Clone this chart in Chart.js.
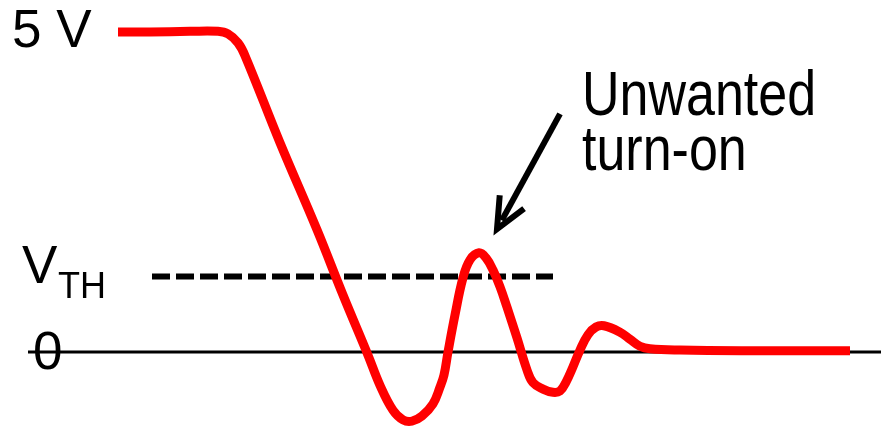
<!DOCTYPE html>
<html lang="en">
<head>
    <meta charset="UTF-8">
    <title>Unwanted turn-on</title>
    <script src="https://cdn.jsdelivr.net/npm/chart.js"></script>
    <style>
        body { margin: 0; background: #fff; }
        canvas { display: block; }
    </style>
</head>
<body>
    <canvas id="waveChart" width="881" height="428"></canvas>
    <script>
        // gate voltage waveform (time in arbitrary units, volts)
        const time = [118, 150, 190, 218, 228, 238, 245, 280, 317, 343, 368, 380, 393, 403, 412, 422, 433, 440, 444, 448,
            455, 463, 470, 479, 486, 493, 500, 507, 517, 527, 533, 543, 553, 560, 566, 573, 580, 588, 596, 604,
            620, 630, 640, 650, 680, 750, 850];
        const volts = [5.0, 5.0, 5.01, 5.01, 4.97, 4.83, 4.63, 3.27, 1.91, 0.89, -0.05, -0.52, -0.91, -1.06, -1.08, -1.0, -0.81, -0.55, -0.36, 0.0,
            0.58, 1.16, 1.44, 1.55, 1.47, 1.28, 1.02, 0.70, 0.22, -0.28, -0.48, -0.58, -0.63, -0.61, -0.47, -0.23, 0.03, 0.27, 0.39, 0.41,
            0.31, 0.20, 0.09, 0.05, 0.03, 0.02, 0.02];

        const vHigh = 5;
        const vTh = 1.18;
        const zeroSpan = [28, 881];
        const thSpan = [152, 553];
        // arrow tail / tip, in chart units
        const arrowFrom = [560, 3.72];
        const arrowTo = [497, 1.92];

        const wave = time.map((t, i) => ({ x: t, y: volts[i] }));

        const labelsPlugin = {
            id: 'labels',
            afterDraw(chart) {
                const ctx = chart.ctx;
                const xs = chart.scales.x, ys = chart.scales.y;
                ctx.save();
                ctx.fillStyle = '#000';
                ctx.textBaseline = 'middle';
                ctx.font = '53px "Liberation Sans", Arial, sans-serif';
                ctx.fillText('5 V', 12, ys.getPixelForValue(vHigh));
                ctx.fillText('0', 33, ys.getPixelForValue(0) + 2);
                const yth = ys.getPixelForValue(vTh);
                ctx.fillText('V', 22, yth - 8);
                ctx.font = '36px "Liberation Sans", Arial, sans-serif';
                ctx.fillText('TH', 58, yth + 12);

                // callout text is a little taller than wide
                ctx.textBaseline = 'alphabetic';
                ctx.font = '52px "Liberation Sans", Arial, sans-serif';
                ctx.save();
                ctx.scale(1, 1.2);
                ctx.fillText('Unwanted', 582, 115 / 1.2);
                ctx.fillText('turn-on', 582, 170 / 1.2);
                ctx.restore();

                // arrow
                const x0 = xs.getPixelForValue(arrowFrom[0]), y0 = ys.getPixelForValue(arrowFrom[1]);
                const x1 = xs.getPixelForValue(arrowTo[0]), y1 = ys.getPixelForValue(arrowTo[1]);
                const ang = Math.atan2(y1 - y0, x1 - x0);
                ctx.strokeStyle = '#000';
                ctx.lineWidth = 6;
                ctx.lineCap = 'butt';
                ctx.beginPath();
                ctx.moveTo(x0, y0);
                ctx.lineTo(x1 - 10 * Math.cos(ang), y1 - 10 * Math.sin(ang));
                ctx.stroke();
                ctx.lineJoin = 'miter';
                ctx.beginPath();
                const len = 34, spread = 0.42;
                ctx.moveTo(x1 - len * Math.cos(ang - spread), y1 - len * Math.sin(ang - spread));
                ctx.lineTo(x1, y1);
                ctx.lineTo(x1 - len * Math.cos(ang + spread), y1 - len * Math.sin(ang + spread));
                ctx.stroke();
                ctx.restore();
            }
        };

        new Chart(document.getElementById('waveChart'), {
            type: 'line',
            data: {
                datasets: [
                    {
                        data: [{ x: zeroSpan[0], y: 0 }, { x: zeroSpan[1], y: 0 }],
                        borderColor: '#000',
                        borderWidth: 3,
                        pointRadius: 0,
                        order: 3
                    },
                    {
                        data: [{ x: thSpan[0], y: vTh }, { x: thSpan[1], y: vTh }],
                        borderColor: '#000',
                        borderWidth: 6,
                        borderDash: [18, 6],
                        borderCapStyle: 'butt',
                        pointRadius: 0,
                        order: 2
                    },
                    {
                        data: wave,
                        borderColor: '#ff0000',
                        borderWidth: 9,
                        pointRadius: 0,
                        tension: 0.4,
                        borderCapStyle: 'butt',
                        borderJoinStyle: 'round',
                        order: 1
                    }
                ]
            },
            options: {
                responsive: false,
                animation: false,
                layout: { padding: 0 },
                plugins: { legend: { display: false }, tooltip: { enabled: false } },
                scales: {
                    x: { type: 'linear', min: 0, max: 881, display: false },
                    y: { min: -1.1875, max: 5.5, display: false }
                },
                elements: { line: { clip: false } }
            },
            plugins: [labelsPlugin]
        });
    </script>
</body>
</html>
